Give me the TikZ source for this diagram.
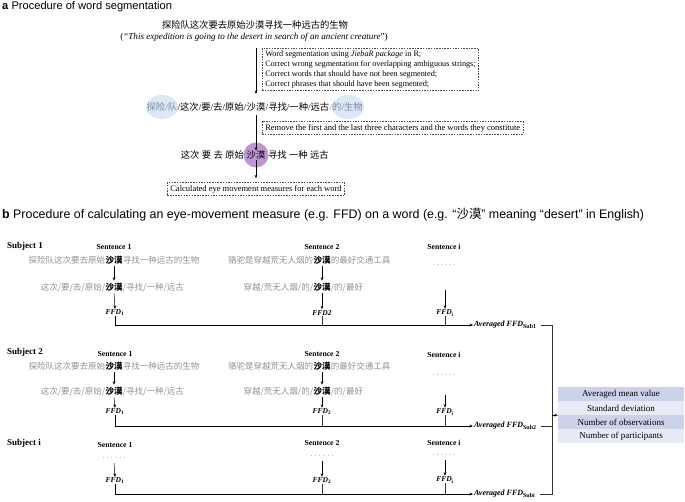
\documentclass[tikz,border=0pt]{standalone}
\usepackage{fontspec}
\setmainfont{Liberation Serif}
\newfontfamily\sansf{Liberation Sans}
\newfontfamily\cjk{Noto Sans CJK SC}
\usetikzlibrary{arrows.meta,backgrounds}
\definecolor{ablue}{RGB}{220,232,245}
\definecolor{apurple}{RGB}{190,150,212}
\definecolor{agray}{RGB}{120,138,168}
\definecolor{bgray}{RGB}{145,145,145}
\definecolor{rowdark}{RGB}{205,210,235}
\definecolor{rowlight}{RGB}{232,234,246}
\newcommand\sixdots{.\hspace{2.2pt}.\hspace{2.2pt}.\hspace{2.2pt}.\hspace{2.2pt}.\hspace{2.2pt}.}
\newcommand\sla{{\rmfamily/}}
\newcommand\cjksp{\hspace{2.4pt}}
\begin{document}
\begin{tikzpicture}[x=1pt,y=-1pt,
  tx/.style={inner sep=0pt},
  cn/.style={inner sep=0pt, font=\cjk\fontsize{9.3}{11}\selectfont},
  cb/.style={inner sep=0pt, text=bgray, font=\cjk\fontsize{8.5}{10}\selectfont},
  ck/.style={inner sep=0pt, text=black, font=\cjk\bfseries\fontsize{8.5}{10}\selectfont},
  hd/.style={inner sep=0pt, anchor=west, font=\bfseries\fontsize{9}{11}\selectfont},
  sh/.style={inner sep=0pt, font=\bfseries\fontsize{7.7}{9}\selectfont},
  ff/.style={inner sep=0pt, font=\bfseries\itshape\fontsize{7.5}{9}\selectfont},
  avg/.style={inner sep=0pt, anchor=west, font=\bfseries\itshape\fontsize{8}{10}\selectfont},
  dots/.style={inner sep=0pt, text=bgray, font=\fontsize{8}{10}\selectfont},
  arr/.style={-{Stealth[length=3.5pt,width=2.8pt]}, line width=0.5pt},
  ln/.style={line width=0.5pt, draw=black!80},
  dbox/.style={draw=black!70, dash pattern=on 1.5pt off 1.2pt, line width=0.5pt, inner xsep=3pt, inner ysep=2.5pt},
  row/.style={inner sep=0pt, minimum width=126pt, minimum height=13.2pt, font=\fontsize{9}{10}\selectfont}
]
\useasboundingbox (0,0) rectangle (685,501);

% ---------------- part a ----------------
\node[tx, anchor=west, font=\sansf\fontsize{11.1}{13}\selectfont] (ta) at (2,7) {\textbf{a} Procedure of word segmentation};
\node[cn] (s1) at (255,25) {探险队这次要去原始沙漠寻找一种远古的生物};
\node[tx, font=\fontsize{9.1}{11}\selectfont] (eng) at (254,37) {(\textit{“This expedition is going to the desert in search of an ancient creature}”)};

\node[dbox, anchor=north west, align=left, font=\fontsize{8.2}{10}\selectfont] (box1) at (262,48)
 {Word segmentation using \textit{JiebaR package} in R;\\
  Correct wrong segmentation for overlapping ambiguous strings;\\
  Correct words that should have not been segmented;\\
  Correct phrases that should have been segmented;};

\node[cn] (sm) at (256,107) {沙漠};
\node[cn, anchor=base east] (sml) at (sm.base west) {\sla 这次\sla 要\sla 去\sla 原始\sla};
\node[cn, anchor=base east, text=agray] (sl) at (sml.base west) {探险\sla 队};
\node[cn, anchor=base west] (smr) at (sm.base east) {\sla 寻找\sla 一种\sla 远古};
\node[cn, anchor=base west, text=agray] (sr) at (smr.base east) {\sla 的\sla 生物};
\begin{scope}[on background layer]
  \fill[ablue] (sl.center) ellipse [x radius=16, y radius=12];
  \fill[ablue] ([xshift=2pt]sr.center) ellipse [x radius=16, y radius=12];
\end{scope}
\draw[arr] (sm |- box1.north) -- ([yshift=-3pt]sm |- box1.south);

\node[dbox, anchor=west, font=\fontsize{8.5}{9}\selectfont] (box2) at (262,128) {Remove the first and the last three characters and the words they constitute};

\node[cn] (sm2) at (256,155) {沙漠};
\node[cn, anchor=base east] (sm2l) at ([xshift=-2.4pt]sm2.base west) {这次\cjksp 要\cjksp 去\cjksp 原始};
\node[cn, anchor=base west] (sm2r) at ([xshift=2.4pt]sm2.base east) {寻找\cjksp 一种\cjksp 远古};
\begin{scope}[on background layer]
  \fill[apurple] (sm2.center) circle (12.5);
\end{scope}
\draw[arr] ([yshift=-3pt]sm.south) -- (sm2.north);

\node[dbox, font=\fontsize{8.5}{10}\selectfont] (box3) at (256,189) {Calculated eye movement measures for each word};
\draw[arr] (sm2.south) -- ([yshift=4pt]box3.north);

% ---------------- part b ----------------
\node[tx, anchor=west, font=\sansf\fontsize{12.4}{14}\selectfont] (tb) at (2,215) {\textbf{b} Procedure of calculating an eye-movement measure (e.g. FFD) on a word (e.g. “{\cjk 沙漠}” meaning “desert” in English)};

% Subject 1
\node[hd] (subj1) at (7,246) {Subject 1};
\node[sh] (h11) at (114,247) {Sentence 1};
\node[ck] (c11) at (114,260) {沙漠};
\node[cb, anchor=base east] at (c11.base west) {探险队这次要去原始};
\node[cb, anchor=base west] at (c11.base east) {寻找一种远古的生物};
\node[ck] (g11) at (114,287) {沙漠};
\node[cb, anchor=base east] at (g11.base west) {这次/要/去/原始/};
\node[cb, anchor=base west] at (g11.base east) {/寻找/一种/远古};
\node[ff] (f11) at (115,313) {FFD\textsubscript{\upshape 1}};
\draw[arr] ([yshift=-2pt]c11.south) -- ([yshift=2pt]g11.north);
\draw[arr] ([yshift=-2pt]g11.south) -- ([yshift=1pt]f11.north);

\node[sh] (h12) at (322,247) {Sentence 2};
\node[ck] (c12) at (322,260) {沙漠};
\node[cb, anchor=base east] at (c12.base west) {骆驼是穿越荒无人烟的};
\node[cb, anchor=base west] at (c12.base east) {的最好交通工具};
\node[ck] (g12) at (322,287) {沙漠};
\node[cb, anchor=base east] at (g12.base west) {穿越/荒无人烟/的/};
\node[cb, anchor=base west] at (g12.base east) {/的/最好};
\node[ff] (f12) at (322,313) {FFD2};
\draw[arr] ([yshift=-2pt]c12.south) -- ([yshift=2pt]g12.north);
\draw[arr] ([yshift=-2pt]g12.south) -- ([yshift=1pt]f12.north);

\node[sh] (h1i) at (444,247) {Sentence i};
\node[dots] (d1i) at (444,265) {\sixdots};
\coordinate (q1i) at (445,290);
\node[ff] (f1i) at (445,313) {FFD\textsubscript{\upshape i}};
\draw[arr] (q1i) -- ([yshift=1pt]f1i.north);

\node[avg] (a1) at (474,325) {Averaged FFD\textsubscript{\upshape Sub1}};
\draw[arr] (f11.south) |- ([xshift=-1pt]a1.west);
\draw[ln] (f12.south) -- (f12.south |- a1.west);
\draw[ln] (f1i.south) -- (f1i.south |- a1.west);

% Subject 2
\node[hd] (subj2) at (7,352) {Subject 2};
\node[sh] (h21) at (115,354) {Sentence 1};
\node[ck] (c21) at (114,366) {沙漠};
\node[cb, anchor=base east] at (c21.base west) {探险队这次要去原始};
\node[cb, anchor=base west] at (c21.base east) {寻找一种远古的生物};
\node[ck] (g21) at (114,391) {沙漠};
\node[cb, anchor=base east] at (g21.base west) {这次/要/去/原始/};
\node[cb, anchor=base west] at (g21.base east) {/寻找/一种/远古};
\node[ff] (f21) at (115,412) {FFD\textsubscript{\upshape 1}};
\draw[arr] ([yshift=-2pt]c21.south) -- ([yshift=2pt]g21.north);
\draw[arr] ([yshift=-2pt]g21.south) -- ([yshift=1pt]f21.north);

\node[sh] (h22) at (322,354) {Sentence 2};
\node[ck] (c22) at (322,366) {沙漠};
\node[cb, anchor=base east] at (c22.base west) {骆驼是穿越荒无人烟的};
\node[cb, anchor=base west] at (c22.base east) {的最好交通工具};
\node[ck] (g22) at (322,391) {沙漠};
\node[cb, anchor=base east] at (g22.base west) {穿越/荒无人烟/的/};
\node[cb, anchor=base west] at (g22.base east) {/的/最好};
\node[ff] (f22) at (322,412) {FFD\textsubscript{\upshape 2}};
\draw[arr] ([yshift=-2pt]c22.south) -- ([yshift=2pt]g22.north);
\draw[arr] ([yshift=-2pt]g22.south) -- ([yshift=1pt]f22.north);

\node[sh] (h2i) at (444,355) {Sentence i};
\node[dots] (d2i) at (444,375) {\sixdots};
\coordinate (q2i) at (445,395);
\node[ff] (f2i) at (445,412) {FFD\textsubscript{\upshape i}};
\draw[arr] (q2i) -- ([yshift=1pt]f2i.north);

\node[avg] (a2) at (474,426) {Averaged FFD\textsubscript{\upshape Sub2}};
\draw[arr] (f21.south) |- ([xshift=-1pt]a2.west);
\draw[ln] (f22.south) -- (f22.south |- a2.west);
\draw[ln] (f2i.south) -- (f2i.south |- a2.west);

% Subject i
\node[hd] (subj3) at (7,443) {Subject i};
\node[sh] (h31) at (115,445) {Sentence 1};
\node[dots] (d31) at (114,458) {\sixdots};
\coordinate (q31) at (114,463);
\node[ff] (f31) at (115,481) {FFD\textsubscript{\upshape 1}};
\draw[arr] (q31) -- ([yshift=1pt]f31.north);

\node[sh] (h32) at (322,443) {Sentence 2};
\node[dots] (d32) at (322,456) {\sixdots};
\coordinate (q32) at (322,461);
\node[ff] (f32) at (322,481) {FFD\textsubscript{\upshape 2}};
\draw[arr] (q32) -- ([yshift=1pt]f32.north);

\node[sh] (h3i) at (444,443) {Sentence i};
\node[dots] (d3i) at (444,455) {\sixdots};
\coordinate (q3i) at (445,460);
\node[ff] (f3i) at (445,480) {FFD\textsubscript{\upshape i}};
\draw[arr] (q3i) -- ([yshift=1pt]f3i.north);

\node[avg] (a3) at (474,494) {Averaged FFD\textsubscript{\upshape Subi}};
\draw[arr] (f31.south) |- ([xshift=-1pt]a3.west);
\draw[ln] (f32.south) -- (f32.south |- a3.west);
\draw[ln] (f3i.south) -- (f3i.south |- a3.west);

% right bracket and table
\coordinate (vx) at (552,0);
\node[row, fill=rowdark]  (t1) at (621,394) {Averaged mean value};
\node[row, fill=rowlight] (t2) at (621,408) {Standard deviation};
\node[row, fill=rowdark]  (t3) at (621,422) {Number of observations};
\node[row, fill=rowlight] (t4) at (621,436) {Number of participants};
\draw[ln] ([xshift=4pt]a1.east) -- (a1.east -| vx) -- (a3.east -| vx) -- ([xshift=4pt]a3.east);
\draw[ln] ([xshift=4pt]a2.east) -- (a2.east -| vx);
\draw[arr] (vx |- t3.north west) -- (t3.north west);
\end{tikzpicture}
\end{document}
